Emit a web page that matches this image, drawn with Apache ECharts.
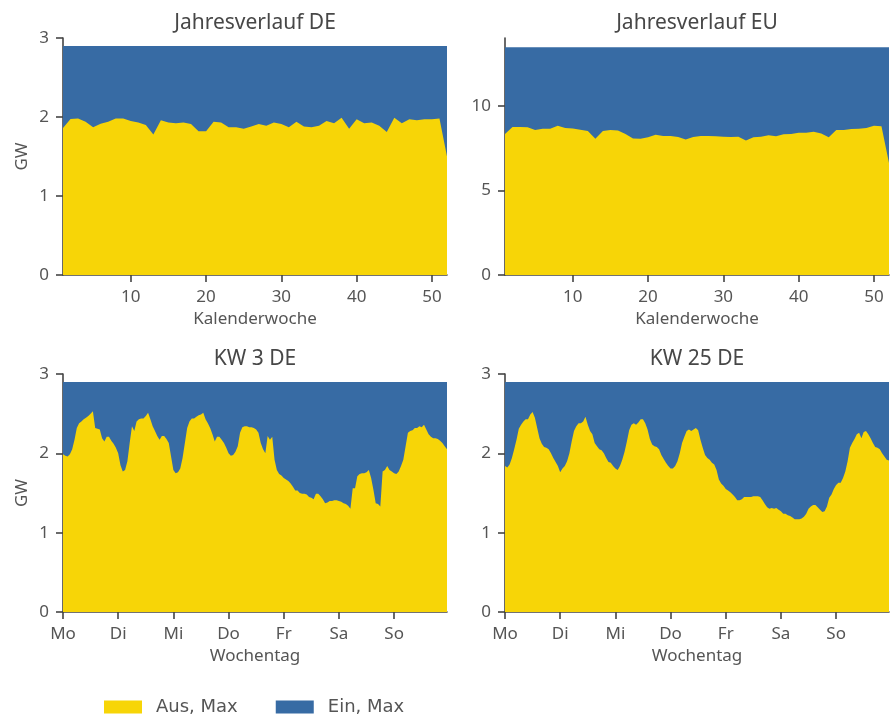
<!DOCTYPE html>
<html>
<head>
<meta charset="utf-8">
<script src="https://cdn.jsdelivr.net/npm/echarts@6/dist/echarts.min.js"></script>
<style>
  html, body { margin: 0; padding: 0; background: #ffffff; }
  #chart { width: 892px; height: 725px; }
</style>
</head>
<body>
<div id="chart"></div>
<script>
// Maximum discharge ("Aus") and charge ("Ein") power in GW.

// Calendar weeks 1..52
const weeks = Array.from({ length: 52 }, (_, i) => i + 1);
// Hours of a week 0..167, labelled by weekday
const hours = Array.from({ length: 168 }, (_, i) => i);
const dayTicks = [0, 24, 48, 72, 96, 120, 144];
const dayNames = ['Mo', 'Di', 'Mi', 'Do', 'Fr', 'Sa', 'So'];

// Yearly course, Germany (GW)
const ausMaxDE = [
  1.86, 1.975, 1.98, 1.94, 1.87, 1.915, 1.94, 1.98, 1.98, 1.95,
  1.93, 1.90, 1.78, 1.96, 1.93, 1.92, 1.93, 1.91, 1.82, 1.82,
  1.94, 1.93, 1.87, 1.87, 1.85, 1.88, 1.91, 1.89, 1.93, 1.91,
  1.87, 1.94, 1.88, 1.87, 1.89, 1.95, 1.92, 1.99, 1.85, 1.97,
  1.92, 1.93, 1.89, 1.81, 1.99, 1.92, 1.97, 1.96, 1.97, 1.97,
  1.98, 1.50
];
const einMaxDE = 2.9;

// Yearly course, EU (GW)
const ausMaxEU = [
  8.33, 8.74, 8.74, 8.73, 8.56, 8.64, 8.64, 8.82, 8.68, 8.66,
  8.58, 8.50, 8.05, 8.50, 8.56, 8.54, 8.33, 8.07, 8.05, 8.13,
  8.29, 8.21, 8.21, 8.15, 8.01, 8.15, 8.21, 8.21, 8.19, 8.17,
  8.15, 8.17, 7.95, 8.13, 8.17, 8.25, 8.19, 8.31, 8.33, 8.41,
  8.41, 8.46, 8.36, 8.13, 8.56, 8.56, 8.62, 8.64, 8.68, 8.82,
  8.78, 6.62
];
const einMaxEU = 13.45;

// Week 3, Germany, hourly (GW)
const ausMaxKW3 = [
  1.99, 1.97, 1.96, 1.99, 2.05, 2.17, 2.32, 2.38, 2.40, 2.43,
  2.45, 2.47, 2.50, 2.53, 2.32, 2.31, 2.30, 2.19, 2.15, 2.21,
  2.21, 2.16, 2.12, 2.07, 2.00, 1.85, 1.77, 1.79, 1.90, 2.13,
  2.34, 2.28, 2.40, 2.43, 2.44, 2.44, 2.47, 2.51, 2.43, 2.34,
  2.28, 2.22, 2.17, 2.22, 2.22, 2.18, 2.13, 1.96, 1.79, 1.75,
  1.76, 1.81, 1.94, 2.13, 2.32, 2.40, 2.44, 2.44, 2.46, 2.48,
  2.49, 2.51, 2.43, 2.38, 2.32, 2.24, 2.15, 2.21, 2.21, 2.17,
  2.13, 2.07, 2.00, 1.97, 1.98, 2.02, 2.09, 2.26, 2.33, 2.34,
  2.34, 2.33, 2.33, 2.32, 2.30, 2.26, 2.13, 2.05, 2.00, 2.22,
  2.17, 2.21, 1.92, 1.79, 1.74, 1.72, 1.69, 1.67, 1.65, 1.62,
  1.58, 1.53, 1.53, 1.50, 1.49, 1.49, 1.48, 1.45, 1.44, 1.42,
  1.49, 1.49, 1.46, 1.42, 1.37, 1.38, 1.40, 1.40, 1.41, 1.41,
  1.40, 1.39, 1.37, 1.36, 1.34, 1.30, 1.56, 1.56, 1.71, 1.74,
  1.75, 1.75, 1.76, 1.79, 1.69, 1.54, 1.37, 1.36, 1.33, 1.77,
  1.79, 1.84, 1.79, 1.77, 1.75, 1.74, 1.77, 1.84, 1.92, 2.09,
  2.26, 2.28, 2.29, 2.32, 2.32, 2.34, 2.33, 2.36, 2.30, 2.24,
  2.21, 2.19, 2.19, 2.18, 2.16, 2.13, 2.09, 2.05
];

// Week 25, Germany, hourly (GW)
const ausMaxKW25 = [
  1.84, 1.82, 1.86, 1.94, 2.05, 2.17, 2.31, 2.36, 2.40, 2.43,
  2.43, 2.49, 2.52, 2.45, 2.32, 2.19, 2.12, 2.08, 2.07, 2.05,
  2.00, 1.94, 1.89, 1.84, 1.76, 1.81, 1.84, 1.90, 2.00, 2.15,
  2.28, 2.34, 2.38, 2.38, 2.40, 2.46, 2.36, 2.28, 2.24, 2.13,
  2.09, 2.05, 2.04, 2.00, 1.94, 1.89, 1.88, 1.84, 1.81, 1.79,
  1.84, 1.92, 2.02, 2.15, 2.29, 2.36, 2.38, 2.36, 2.39, 2.43,
  2.43, 2.38, 2.30, 2.18, 2.11, 2.09, 2.08, 2.05, 1.98, 1.93,
  1.88, 1.84, 1.81, 1.81, 1.84, 1.90, 2.00, 2.13, 2.21, 2.28,
  2.30, 2.28, 2.30, 2.32, 2.29, 2.17, 2.07, 1.98, 1.94, 1.92,
  1.88, 1.86, 1.79, 1.67, 1.62, 1.59, 1.55, 1.53, 1.51, 1.48,
  1.45, 1.41, 1.41, 1.42, 1.45, 1.45, 1.45, 1.45, 1.46, 1.46,
  1.46, 1.45, 1.41, 1.36, 1.32, 1.30, 1.31, 1.30, 1.31, 1.29,
  1.27, 1.24, 1.24, 1.22, 1.21, 1.19, 1.17, 1.17, 1.17, 1.18,
  1.20, 1.24, 1.30, 1.33, 1.35, 1.35, 1.32, 1.29, 1.26, 1.27,
  1.33, 1.44, 1.48, 1.55, 1.60, 1.63, 1.63, 1.69, 1.77, 1.90,
  2.07, 2.13, 2.18, 2.24, 2.26, 2.19, 2.27, 2.28, 2.24, 2.19,
  2.13, 2.08, 2.07, 2.05, 2.00, 1.96, 1.92, 1.91
];

const YELLOW = '#f7d507';
const BLUE = '#376ba4';
const FONT = 'Noto Sans';
const TEXT = '#555555';
const AXIS = '#444444';

const panels = [
  { title: 'Jahresverlauf DE', left: 63, top: 38, height: 237, x: weeks, aus: ausMaxDE, ein: einMaxDE, yMax: 3, yTicks: [0, 1, 2, 3], gw: true, week: false },
  { title: 'Jahresverlauf EU', left: 505, top: 38, height: 237, x: weeks, aus: ausMaxEU, ein: einMaxEU, yMax: 14, yTicks: [0, 5, 10], gw: false, week: false },
  { title: 'KW 3 DE', left: 63, top: 374, height: 238, x: hours, aus: ausMaxKW3, ein: einMaxDE, yMax: 3, yTicks: [0, 1, 2, 3], gw: true, week: true },
  { title: 'KW 25 DE', left: 505, top: 374, height: 238, x: hours, aus: ausMaxKW25, ein: einMaxDE, yMax: 3, yTicks: [0, 1, 2, 3], gw: false, week: true }
];
const PANEL_W = 384;

const axisLineStyle = { show: true, lineStyle: { color: AXIS, width: 1.6 } };
const labelStyle = { color: TEXT, fontSize: 17, fontFamily: FONT };

const option = {
  animation: false,
  backgroundColor: '#ffffff',
  textStyle: { fontFamily: FONT },
  title: panels.map(p => ({
    text: p.title,
    left: p.left + PANEL_W / 2,
    top: p.top - 25,
    textAlign: 'center',
    padding: 0,
    textStyle: { fontSize: 21, fontWeight: 'normal', color: '#474747', fontFamily: FONT }
  })),
  legend: {
    data: ['Aus, Max', 'Ein, Max'],
    left: 104,
    top: 698,
    padding: 0,
    itemWidth: 38,
    itemHeight: 13,
    itemGap: 38,
    icon: 'rect',
    textStyle: { fontFamily: 'DejaVu Sans', fontSize: 18, color: TEXT, padding: [0, 0, 0, 9] }
  },
  grid: panels.map(p => ({ left: p.left, top: p.top, width: PANEL_W, height: p.height })),
  xAxis: panels.map((p, i) => {
    const first = p.x[0];
    const last = p.x[p.x.length - 1];
    const ticks = p.week ? dayTicks : [10, 20, 30, 40, 50];
    return {
      type: 'value',
      gridIndex: i,
      min: first,
      max: last,
      name: p.week ? 'Wochentag' : 'Kalenderwoche',
      nameLocation: 'middle',
      nameGap: 36,
      nameTextStyle: labelStyle,
      axisLine: axisLineStyle,
      axisTick: { show: true, length: 7, lineStyle: { color: AXIS, width: 1.6 }, customValues: ticks },
      axisLabel: Object.assign({
        customValues: ticks,
        margin: 14,
        formatter: v => p.week ? dayNames[dayTicks.indexOf(v)] : String(v)
      }, labelStyle),
      splitLine: { show: false }
    };
  }),
  yAxis: panels.map((p, i) => ({
    type: 'value',
    gridIndex: i,
    min: 0,
    max: p.yMax,
    name: p.gw ? 'GW' : '',
    nameLocation: 'middle',
    nameGap: 32,
    nameTextStyle: labelStyle,
    axisLine: axisLineStyle,
    axisTick: { show: true, length: 7, lineStyle: { color: AXIS, width: 1.6 }, customValues: p.yTicks },
    axisLabel: Object.assign({ customValues: p.yTicks, margin: 14 }, labelStyle),
    splitLine: { show: false }
  })),
  series: []
};

panels.forEach((p, i) => {
  const first = p.x[0];
  const last = p.x[p.x.length - 1];
  // Charging limit: constant over the whole period
  option.series.push({
    name: 'Ein, Max',
    type: 'line',
    xAxisIndex: i,
    yAxisIndex: i,
    data: [[first, p.ein], [last, p.ein]],
    showSymbol: false,
    symbol: 'none',
    lineStyle: { width: 0 },
    areaStyle: { color: BLUE, opacity: 1 },
    itemStyle: { color: BLUE },
    z: 1
  });
  // Discharging limit drawn over it
  option.series.push({
    name: 'Aus, Max',
    type: 'line',
    xAxisIndex: i,
    yAxisIndex: i,
    data: p.x.map((x, k) => [x, p.aus[k]]),
    showSymbol: false,
    symbol: 'none',
    lineStyle: { width: 0 },
    areaStyle: { color: YELLOW, opacity: 1 },
    itemStyle: { color: YELLOW },
    z: 2
  });
});

const chart = echarts.init(document.getElementById('chart'), null, { renderer: 'canvas' });
chart.setOption(option);
</script>
</body>
</html>
